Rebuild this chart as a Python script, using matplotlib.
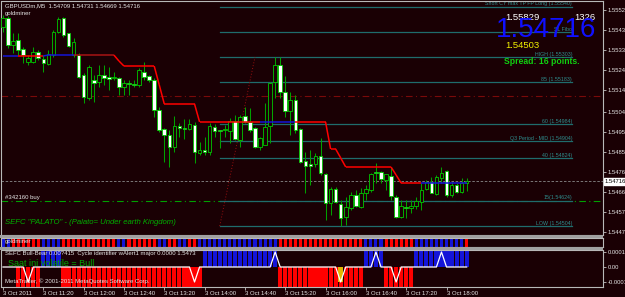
import matplotlib
matplotlib.use("Agg")
import matplotlib.pyplot as plt
import matplotlib.transforms as mtransforms
from matplotlib.patches import Rectangle
from matplotlib.collections import LineCollection

plt.rcParams['font.family'] = ['Liberation Sans', 'DejaVu Sans']

# ---- data (GBPUSDm M5, 3 Oct 2011 10:40 .. 18:20) ----
opens = [1.55445, 1.55487, 1.55360, 1.55383, 1.55341, 1.55279, 1.55279, 1.55326, 1.55293, 1.55270,
         1.55312, 1.55421, 1.55487, 1.55416, 1.55312, 1.55312, 1.55218, 1.55109, 1.55194, 1.55185,
         1.55218, 1.55208, 1.55204, 1.55204, 1.55161, 1.55180, 1.55175, 1.55171, 1.55232, 1.55213,
         1.55194, 1.55052, 1.54963, 1.54934, 1.54878, 1.54977, 1.54967, 1.54963, 1.54982, 1.54849,
         1.54863, 1.54854, 1.54972, 1.54958, 1.54958, 1.54953, 1.55000, 1.54911, 1.55024, 1.54996,
         1.54967, 1.54878, 1.54887, 1.54977, 1.55185, 1.55265, 1.55137, 1.55048, 1.55100, 1.54963,
         1.54811, 1.54797, 1.54797, 1.54835, 1.54750, 1.54613, 1.54679, 1.54608, 1.54547, 1.54589,
         1.54651, 1.54594, 1.54660, 1.54674, 1.54759, 1.54759, 1.54722, 1.54740, 1.54641, 1.54547,
         1.54594, 1.54589, 1.54599, 1.54618, 1.54679, 1.54712, 1.54655, 1.54731, 1.54764, 1.54651,
         1.54698, 1.54665, 1.54709]
highs = [1.55501, 1.55497, 1.55416, 1.55416, 1.55350, 1.55312, 1.55350, 1.55336, 1.55312, 1.55336,
         1.55430, 1.55492, 1.55492, 1.55416, 1.55393, 1.55322, 1.55227, 1.55265, 1.55218, 1.55265,
         1.55265, 1.55256, 1.55232, 1.55208, 1.55194, 1.55194, 1.55194, 1.55251, 1.55279, 1.55218,
         1.55204, 1.55067, 1.54967, 1.54958, 1.55024, 1.54991, 1.55010, 1.55010, 1.54996, 1.54901,
         1.54925, 1.54991, 1.54986, 1.54958, 1.54982, 1.55015, 1.55029, 1.55029, 1.55067, 1.55062,
         1.54972, 1.54925, 1.55085, 1.55185, 1.55303, 1.55303, 1.55213, 1.55137, 1.55123, 1.54967,
         1.54854, 1.54863, 1.54849, 1.54920, 1.54755, 1.54688, 1.54688, 1.54627, 1.54641, 1.54665,
         1.54674, 1.54684, 1.54698, 1.54755, 1.54802, 1.54764, 1.54750, 1.54783, 1.54651, 1.54627,
         1.54627, 1.54627, 1.54641, 1.54707, 1.54722, 1.54736, 1.54745, 1.54783, 1.54769, 1.54712,
         1.54707, 1.54731, 1.54731]
lows = [1.55421, 1.55345, 1.55322, 1.55312, 1.55274, 1.55265, 1.55274, 1.55289, 1.55232, 1.55265,
        1.55303, 1.55416, 1.55397, 1.55350, 1.55303, 1.55204, 1.55085, 1.55100, 1.55090, 1.55161,
        1.55171, 1.55147, 1.55194, 1.55123, 1.55123, 1.55123, 1.55161, 1.55161, 1.55194, 1.55185,
        1.55019, 1.54948, 1.54807, 1.54783, 1.54854, 1.54925, 1.54915, 1.54958, 1.54802, 1.54840,
        1.54840, 1.54840, 1.54925, 1.54873, 1.54925, 1.54896, 1.54911, 1.54878, 1.54991, 1.54948,
        1.54873, 1.54863, 1.54887, 1.54896, 1.55109, 1.55109, 1.55019, 1.54934, 1.54944, 1.54802,
        1.54660, 1.54698, 1.54783, 1.54745, 1.54533, 1.54556, 1.54613, 1.54504, 1.54509, 1.54580,
        1.54594, 1.54589, 1.54627, 1.54665, 1.54707, 1.54707, 1.54674, 1.54627, 1.54542, 1.54542,
        1.54542, 1.54566, 1.54585, 1.54580, 1.54674, 1.54660, 1.54651, 1.54707, 1.54641, 1.54641,
        1.54660, 1.54660, 1.54669]
closes = [1.55487, 1.55360, 1.55378, 1.55336, 1.55312, 1.55298, 1.55326, 1.55298, 1.55274, 1.55317,
          1.55421, 1.55482, 1.55407, 1.55355, 1.55374, 1.55208, 1.55114, 1.55256, 1.55180, 1.55218,
          1.55204, 1.55199, 1.55208, 1.55161, 1.55180, 1.55175, 1.55171, 1.55241, 1.55208, 1.55194,
          1.55052, 1.54958, 1.54934, 1.54878, 1.54977, 1.54967, 1.54963, 1.54986, 1.54854, 1.54863,
          1.54854, 1.54977, 1.54953, 1.54953, 1.54963, 1.55000, 1.54915, 1.55019, 1.54996, 1.54958,
          1.54878, 1.54920, 1.54972, 1.55180, 1.55265, 1.55137, 1.55048, 1.55100, 1.54958, 1.54807,
          1.54788, 1.54788, 1.54835, 1.54755, 1.54613, 1.54679, 1.54618, 1.54542, 1.54594, 1.54651,
          1.54599, 1.54660, 1.54679, 1.54750, 1.54755, 1.54726, 1.54750, 1.54646, 1.54547, 1.54599,
          1.54589, 1.54599, 1.54622, 1.54674, 1.54712, 1.54660, 1.54736, 1.54755, 1.54651, 1.54698,
          1.54665, 1.54707, 1.54716]

# goldminer trailing stop (step line) and its side per bar
stop_line = ([1.55308] * 9 + [1.55312] * 14 + [1.55284] + [1.55260] * 7 + [1.55171]
             + [1.55081] * 7 + [1.54996] * 26 + [1.54868] * 2 + [1.54826]
             + [1.54783] * 10 + [1.54745] + [1.54707] * 14)
stop_side = "B" * 4 + "R" * 5 + "B" * 6 + "D" * 8 + "R" * 29 + "B" * 7 + "R" * 25 + "B" * 9

# fibo / level objects
level_prices = [1.55540, 1.55421, 1.55303, 1.55183, 1.54984, 1.54904, 1.54824, 1.54624, 1.54504]
level_labels = ["Short CY max TP FP Long (1.55540)", "SL Fibo", "HIGH (1.55303)", "85 (1.55183)",
                "60 (1.54984)", "Q3 Period - MID (1.54904)", "40 (1.54824)", "15(1.54624)",
                "LOW (1.54504)"]
fibo_start, fibo_end = 43, 50
order_price = 1.54620
stop_order_price = 1.55119
bid = 1.54716

# sub windows
gm_side = ("BB" + "R" * 6 + "B" * 4 + "R" * 11 + "BB" + "R" * 6 + "BB" + "RR" + "BB" + "RR"
           + "B" * 16 + "R" * 17 + "B" * 4 + "R" * 6 + "B" * 10 + "R")
sefc_side = "N" * 3 + "R" * 5 + "B" * 4 + "R" * 28 + "B" * 15 + "R" * 17 + "B" * 4 + "R" * 6 + "B" * 11
sefc_amp = 0.00015
cycle_marks = {5: -0.0001, 38: -0.0001, 54: 0.0001, 67: -0.0001, 74: 0.0001, 78: -0.0001, 87: 0.0001}
alert_bar = 67

price_ticks = [1.55525, 1.55430, 1.55335, 1.55240, 1.55145, 1.55045, 1.54950, 1.54855,
               1.54760, 1.54665, 1.54570, 1.54475]
time_ticks = list(range(0, 89, 8))
time_labels = ["3 Oct 2011", "3 Oct 11:20", "3 Oct 12:00", "3 Oct 12:40", "3 Oct 13:20",
               "3 Oct 14:00", "3 Oct 14:40", "3 Oct 15:20", "3 Oct 16:00", "3 Oct 16:40",
               "3 Oct 17:20", "3 Oct 18:00"]

# ---- style ----
BG = '#1a0004'
FRAME = '#b8b8b8'
TXT = '#e6e6e6'
GREEN = '#00b400'
TEAL = '#1f6c6c'
TEAL_TXT = '#2f8f8f'
side_col = {'B': '#1414d8', 'R': '#ff0000', 'D': '#a81414', 'N': BG}

W, H = 625, 297
fig = plt.figure(figsize=(W / 100, H / 100), dpi=100)
fig.patch.set_facecolor(BG)


def panel(x0, y0, x1, y1):
    a = fig.add_axes([x0 / W, 1 - y1 / H, (x1 - x0) / W, (y1 - y0) / H])
    a.set_facecolor(BG)
    for s in a.spines.values():
        s.set_color(FRAME)
        s.set_linewidth(0.8)
    a.set_xlim(-0.3, 119.05)
    a.set_xticks([])
    a.yaxis.tick_right()
    return a


ax = panel(1.5, 1, 603, 235)
gm = panel(1.5, 237.5, 603, 247)
sf = panel(1.5, 250, 603, 287)

# ---- main chart ----
ax.set_ylim(1.544616, 1.555675)
ax.set_yticks(price_ticks)
ax.set_yticklabels([f"{p:.5f}" for p in price_ticks])
ax.tick_params(axis='y', colors=TXT, labelsize=4.2, length=2, width=0.5, pad=1.5)

xs = list(range(len(opens)))
ax.vlines(xs, lows, highs, color='#00a000', lw=0.75, zorder=3)
for i in xs:
    o, c = opens[i], closes[i]
    bot, top = min(o, c), max(o, c)
    fill = '#ffffff' if c < o else BG
    ax.add_patch(Rectangle((i - 0.36, bot), 0.72, max(top - bot, 0.4e-5),
                           facecolor=fill, edgecolor='#00c800', lw=0.6, zorder=4))

segs = [[(i, stop_line[i]), (i + 1, stop_line[i + 1])] for i in range(len(stop_line) - 1)]
ax.add_collection(LineCollection(segs, colors=[side_col[s] for s in stop_side[1:]],
                                 linewidths=1.1, zorder=5))

# level lines
for p, lab in zip(level_prices, level_labels):
    ax.plot([fibo_start, 112.9], [p, p], color=TEAL, lw=0.9, zorder=2)
    ax.text(112.9, p + 0.00002, lab, color=TEAL_TXT, fontsize=3.8, ha='right', va='bottom', zorder=2)
ax.plot([fibo_start, fibo_end], [level_prices[-1], level_prices[2]], color='#9a1010',
        lw=0.7, ls=(0, (1, 2)), zorder=2)

ax.axhline(stop_order_price, color='#7a0a0a', lw=0.8, ls=(0, (6, 3, 1, 3)), zorder=1)
ax.axhline(order_price, color='#00a000', lw=0.8, ls=(0, (6, 3, 1, 3)), zorder=1)
ax.axhline(bid, color='#8a8a8a', lw=0.6, ls=(0, (3, 2)), zorder=1)

tr = mtransforms.blended_transform_factory(ax.transAxes, ax.transData)
ax.text(1.003, bid, f"{bid:.5f}", transform=tr, fontsize=4.2, color='black', ha='left', va='center',
        bbox=dict(boxstyle='square,pad=0.15', facecolor='white', edgecolor='white'), zorder=10,
        clip_on=False)


def ftext(x, y, s, **kw):
    kw.setdefault('va', 'center')
    fig.text(x / W, 1 - y / H, s, **kw)


ftext(5, 6, "GBPUSDm,M5  1.54709 1.54731 1.54669 1.54716", color=TXT, fontsize=4.3)
ftext(5, 14, "goldminer", color=TXT, fontsize=4.3)
ftext(505, 17, "1.55829", color='white', fontsize=6.8)
ftext(574, 17, "1326", color='white', fontsize=6.8)
ftext(546, 30, f"{bid:.5f}", color='#1010ff', fontsize=20, ha='center')
ftext(505, 46, "1.54503", color='#f0f000', fontsize=6.8)
ftext(504, 62, "Spread: 16 points.", color='#10d010', fontsize=6.2, fontweight='bold')
ftext(5, 197, "#342160 buy", color=TXT, fontsize=4.3)
ftext(5, 223, 'SEFC "PALATO" - (Palato= Under earth Kingdom)', color='#00b000', fontsize=5.6,
      style='italic')

# ---- goldminer strip ----
gm.set_ylim(0, 1)
gm.set_yticks([])
gm.bar(xs, [1] * len(xs), width=0.6, color=[side_col[s] for s in gm_side], zorder=1)
ftext(5, 241.5, "goldminer", color=TXT, fontsize=4.3)

# ---- SEFC panel ----
sf.set_ylim(-0.0001333, 0.0001133)
sefc_vals = [sefc_amp if s == 'B' else (-sefc_amp if s == 'R' else 0) for s in sefc_side]
sf.bar(xs, sefc_vals, width=0.82, color=[side_col[s] for s in sefc_side], zorder=1)
sf.bar([alert_bar], [cycle_marks[alert_bar]], width=0.9, color='#e0b800', zorder=2)
cycle_line = [cycle_marks.get(i, 0.0) for i in xs]
sf.plot(xs, cycle_line, color='white', lw=0.9, zorder=3)
sf.set_yticks([0.0001, 0.0, -0.0001])
sf.set_yticklabels(["0.0001", "0.00", "-0.0001"])
sf.tick_params(axis='y', colors=TXT, labelsize=4.2, length=2, width=0.5, pad=1.5)
sf.set_xticks(time_ticks)
sf.set_xticklabels(time_labels, ha='left')
sf.tick_params(axis='x', colors=TXT, labelsize=4.3, length=2, width=0.5, pad=1)

ftext(5, 254, "SEFC Bull-Bear 0.00?415  Cycle identifier wAlert1 major 0.0000 1.5473", color=TXT,
      fontsize=4.3)
ftext(8, 263, "Saat ini volatile = Bull", color='#00a800', fontsize=6.5)
ftext(5, 281, "MetaTrader, \u00a9 2001-2011 MetaQuotes Software Corp.", color=TXT, fontsize=4.3)

# panel separators
for y0, y1 in [(235, 237.5), (247, 250)]:
    fig.add_artist(Rectangle((0, 1 - y1 / H), 603 / W, (y1 - y0) / H, transform=fig.transFigure,
                             facecolor='#a0a0a0', edgecolor='none'))

fig.savefig("out.png", dpi=100, facecolor=BG)
